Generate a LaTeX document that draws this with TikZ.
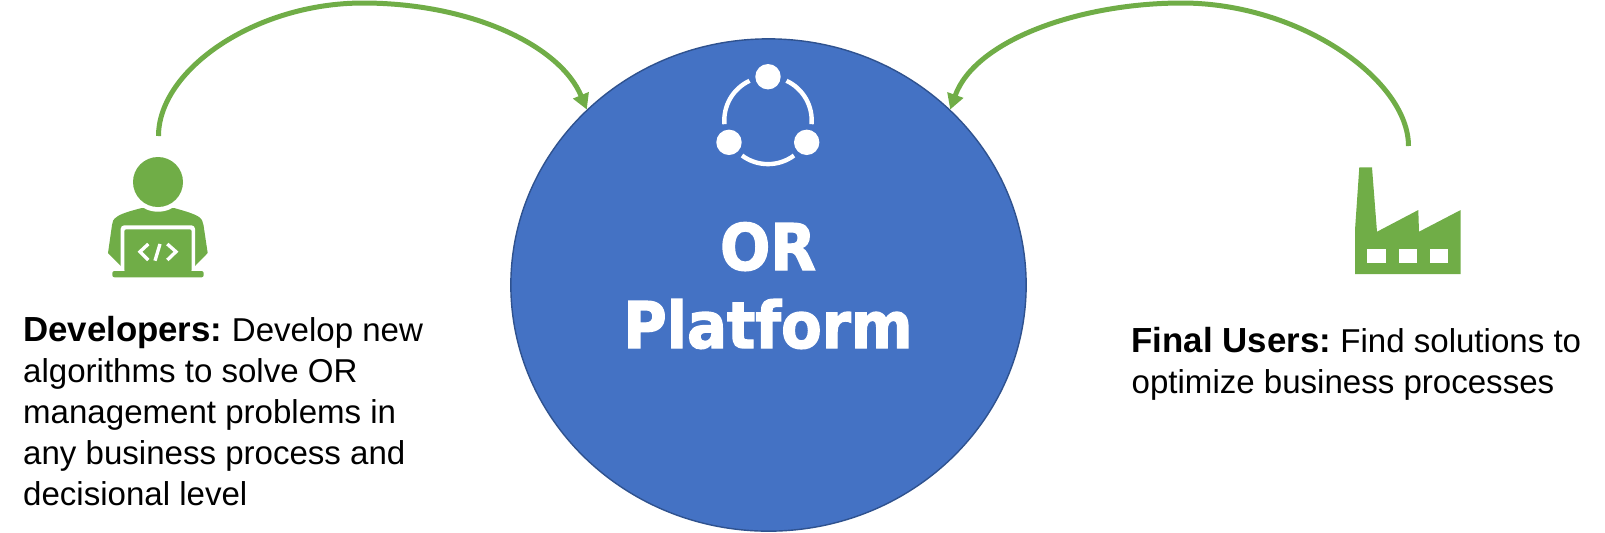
\documentclass[tikz,border=0pt]{standalone}
\usepackage{fontspec}
\setmainfont{Liberation Sans}
\newfontfamily\orfont[FakeStretch=0.92,FakeBold=2]{DejaVu Sans}
\usetikzlibrary{arrows.meta,shapes.geometric}
\definecolor{orgreen}{HTML}{70AD47}
\definecolor{orblue}{HTML}{4472C4}
\definecolor{oredge}{HTML}{2F528F}
\tikzset{
  flow/.style={draw=orgreen,line width=1.42pt,-{Triangle[length=4.4pt,width=4.6pt]}},
  blurb/.style={anchor=base west,align=left,inner sep=0pt,font=\fontsize{9.4}{11.6}\selectfont},
  ortitle/.style={anchor=base,inner sep=0pt,text=white,font=\orfont\bfseries\fontsize{18.3}{20}\selectfont},
  glyph/.style={draw=white,line width=0.95pt},
  ring/.style={draw=white,line width=1.25pt},
}
\begin{document}
\begin{tikzpicture}[x=0.01cm,y=0.01cm]
  \useasboundingbox (0,0) rectangle (1605,-532);
  \node[ellipse,draw=oredge,fill=orblue,line width=0.4pt,inner sep=0pt,minimum width=5.15cm,minimum height=4.92cm] (platform) at (768.5,-285) {};
  \node[ortitle] (ortext) at (768,-270) {OR};
  \node[ortitle] (platformtext) at (768,-348) {Platform};

  \coordinate (devstart) at (158.5,-136);
  \coordinate (devtop) at (363,-3);
  \coordinate (userstart) at (1408.5,-146);
  \coordinate (usertop) at (1182,-3);
  \draw[flow] (devstart) .. controls (158.5,-70) and (255,-3) .. (devtop) .. controls (470,-3) and (560,-45) .. (platform.136);
  \draw[flow] (userstart) .. controls (1408.5,-80) and (1300,-3) .. (usertop) .. controls (1080,-3) and (975,-40) .. (platform.44);

  \fill[orgreen] (141.7,-208) .. controls (130,-211) and (120,-214) .. (116.7,-217) .. controls (113,-219) and (112.5,-222) .. (112,-225) -- (108,-253) -- (121,-266) -- (195,-266) -- (207.7,-253) -- (203.5,-225) .. controls (203,-222) and (202,-219) .. (199,-217) .. controls (195,-214) and (185,-211) .. (174,-208) -- cycle;
  \fill[white] (158,-182) circle (29.7);
  \fill[orgreen] (158,-182) circle (25);
  \fill[white,rounded corners=1pt] (120.7,-225.3) rectangle (195,-272);
  \fill[orgreen,rounded corners=0.6pt] (124.3,-229.3) rectangle (191.7,-272);
  \fill[orgreen,rounded corners=0.6pt] (112.3,-271) rectangle (203.7,-277.3);
  \draw[glyph] (148.3,-244) -- (140,-251.7) -- (148.3,-260);
  \draw[glyph] (160,-244) -- (155,-260.7);
  \draw[glyph] (167.3,-244) -- (176,-251.7) -- (167.3,-260);

  \fill[white] (768,-76.7) circle (12.7);
  \fill[white] (729,-142.3) circle (12.7);
  \fill[white] (806.7,-142.3) circle (12.7);
  \draw[ring] (768,-120.4) ++(115:43.7) arc[start angle=115,end angle=185,radius=43.7];
  \draw[ring] (768,-120.4) ++(65:43.7) arc[start angle=65,end angle=-5,radius=43.7];
  \draw[ring] (768,-120.4) ++(233.5:43.7) arc[start angle=233.5,end angle=306.5,radius=43.7];

  \fill[orgreen] (1359.3,-167.3) -- (1372,-167.3) -- (1377,-231.7) -- (1418.3,-210) -- (1419,-231.7) -- (1460.7,-210) -- (1460.7,-274) -- (1355,-274) -- (1355,-230) -- cycle;
  \fill[white] (1367.3,-249) rectangle (1386,-263.3);
  \fill[white] (1399,-249) rectangle (1417.3,-263.3);
  \fill[white] (1430,-249) rectangle (1448.3,-263.3);

  \node[blurb] (devtext) at (22.5,-505) {{\fontsize{9.9}{11.6}\selectfont\bfseries Developers:}\hspace{-0.8pt} Develop new\\algorithms to solve OR\\management problems in\\any business process and\\decisional level};
  \node[blurb] (usertext) at (1131,-393) {{\fontsize{9.9}{11.6}\selectfont\bfseries Final Users:}\hspace{-0.8pt} Find solutions to\\optimize business processes};
\end{tikzpicture}
\end{document}
